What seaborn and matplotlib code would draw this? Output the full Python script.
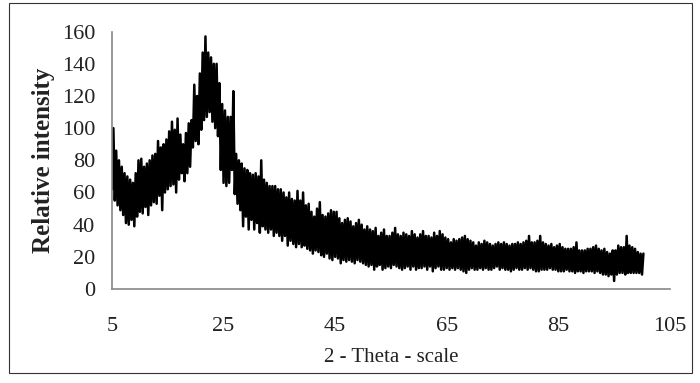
import numpy as np
import pandas as pd
import matplotlib
matplotlib.use("Agg")
import matplotlib.pyplot as plt
import seaborn as sns
from matplotlib.patches import Rectangle

# 2-theta sample positions (degrees), every 0.5 degree from 5 to 100
two_theta = np.arange(5.0, 100.01, 0.5)

# upper envelope of the noisy trace
upper = [100, 86, 80, 76, 72, 70, 68, 66, 72, 80,
         81, 76, 78, 80, 83, 84, 92, 88, 90, 93,
         98, 104, 99, 106, 96, 90, 97, 103, 105, 127,
         120, 134, 147, 157, 147, 144, 140, 140, 128, 115,
         111, 107, 107, 123, 84, 80, 78, 75, 74, 72,
         71, 72, 70, 80, 68, 66, 64, 64, 64, 62,
         62, 60, 57, 60, 56, 55, 61, 55, 60, 52,
         53, 48, 45, 50, 54, 46, 45, 47, 49, 48,
         48, 44, 41, 43, 44, 42, 39, 41, 43, 40,
         37, 39, 37, 36, 38, 33, 35, 37, 33, 33,
         35, 38, 34, 33, 35, 34, 33, 36, 34, 32,
         34, 36, 33, 33, 32, 35, 33, 36, 34, 32,
         31, 29, 31, 30, 31, 32, 33, 31, 30, 29,
         27, 29, 28, 30, 29, 28, 27, 28, 29, 28,
         29, 28, 27, 28, 28, 29, 28, 29, 30, 33,
         29, 29, 30, 33, 29, 28, 27, 28, 26, 27,
         28, 26, 25, 25, 25, 26, 29, 24, 24, 24,
         25, 25, 26, 27, 25, 24, 25, 23, 22, 24,
         24, 27, 26, 26, 33, 27, 26, 25, 23, 22,
         22]

# lower envelope of the noisy trace
lower = [62, 55, 52, 49, 46, 41, 40, 43, 39, 45,
         48, 47, 51, 46, 52, 54, 53, 58, 49, 60,
         62, 64, 65, 60, 68, 72, 67, 72, 76, 88,
         92, 90, 99, 105, 107, 110, 104, 100, 95, 74,
         66, 64, 66, 74, 59, 53, 49, 39, 45, 37,
         43, 37, 41, 35, 39, 37, 35, 37, 33, 35,
         33, 30, 33, 27, 30, 28, 26, 28, 26, 27,
         25, 24, 22, 24, 23, 21, 20, 22, 19, 18,
         20, 19, 16, 18, 17, 18, 17, 16, 18, 17,
         16, 15, 14, 15, 12, 14, 15, 12, 13, 14,
         13, 15, 14, 13, 12, 13, 14, 12, 14, 12,
         13, 13, 14, 12, 14, 11, 13, 14, 12, 12,
         13, 12, 13, 12, 13, 12, 11, 10, 12, 13,
         12, 12, 13, 12, 13, 12, 12, 13, 14, 12,
         13, 12, 12, 11, 12, 13, 12, 12, 13, 12,
         13, 12, 11, 11, 12, 12, 12, 13, 12, 12,
         11, 11, 11, 12, 11, 11, 10, 11, 11, 10,
         11, 11, 11, 10, 11, 10, 9, 9, 8, 9,
         5, 9, 10, 10, 9, 10, 10, 10, 10, 10,
         9]

x_ticks = [5, 25, 45, 65, 85, 105]
y_ticks = [0, 20, 40, 60, 80, 100, 120, 140, 160]
x_label = "2 - Theta - scale"
y_label = "Relative intensity"

# interleave troughs and peaks into a single noisy trace
theta_all = np.concatenate([two_theta, two_theta + 0.25])
inten_all = np.concatenate([np.array(lower, float), np.array(upper, float)])
order = np.argsort(theta_all, kind="stable")
df = pd.DataFrame({"two_theta": theta_all[order], "intensity": inten_all[order]})

sns.set_theme(style="white")
plt.rcParams["font.family"] = ["Liberation Serif", "DejaVu Serif"]

fig = plt.figure(figsize=(7.0, 3.83), dpi=100)
ax = fig.add_axes([0.16, 0.2454, 0.797, 0.672])

sns.lineplot(data=df, x="two_theta", y="intensity", color="black",
             linewidth=1.8, ax=ax, sort=True, estimator=None)

ax.set_xlim(5, 105)
ax.set_ylim(0, 160)
ax.set_xticks(x_ticks)
ax.set_yticks(y_ticks)
ax.tick_params(axis="both", labelsize=16, labelcolor="#222222", length=5,
               width=1, direction="out", color="#888888")
ax.tick_params(axis="x", pad=15)
ax.tick_params(axis="y", pad=7)
for side in ["top", "right"]:
    ax.spines[side].set_visible(False)
for side in ["left", "bottom"]:
    ax.spines[side].set_color("#888888")
    ax.spines[side].set_linewidth(1.2)

ax.set_xlabel(x_label, fontsize=15, color="#222222", labelpad=9)
ax.set_ylabel(y_label, fontsize=18, fontweight="bold", color="#222222",
              labelpad=5)

fig.patches.append(Rectangle((9 / 700, 1 - 373 / 383), 683 / 700, 370 / 383,
                             transform=fig.transFigure, fill=False,
                             edgecolor="#333333", linewidth=0.8))

fig.savefig("out.png", dpi=100)
